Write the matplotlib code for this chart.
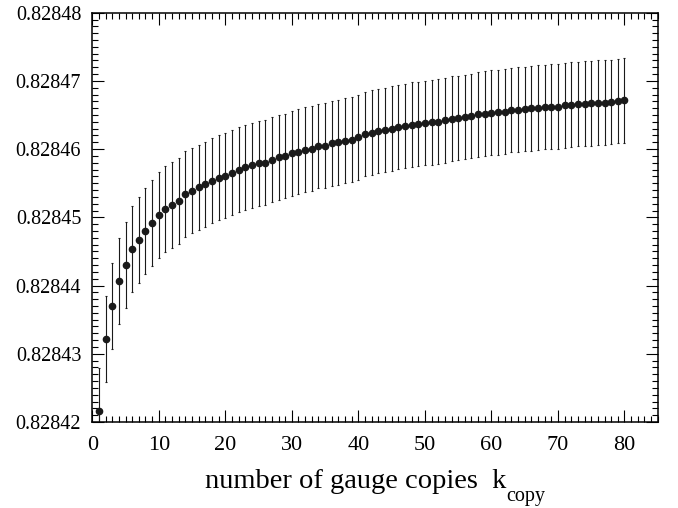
import matplotlib
matplotlib.use("Agg")
import matplotlib.pyplot as plt
from matplotlib.ticker import MultipleLocator, FormatStrFormatter
from matplotlib.transforms import offset_copy

plt.rcParams['font.family'] = ['Liberation Serif', 'DejaVu Serif']

k_copy = list(range(1, 81))

# mean value offset from 0.82842, in units of 1e-5
mean_offset = [
    0.161, 1.217, 1.706, 2.067, 2.307, 2.532, 2.669, 2.805, 2.923, 3.030,
    3.118, 3.182, 3.240, 3.343, 3.392, 3.441, 3.485, 3.539, 3.583, 3.612,
    3.656, 3.700, 3.734, 3.763, 3.793, 3.803, 3.847, 3.881, 3.900, 3.939,
    3.964, 3.993, 4.008, 4.047, 4.052, 4.086, 4.101, 4.125, 4.140, 4.174,
    4.223, 4.242, 4.267, 4.282, 4.301, 4.326, 4.340, 4.360, 4.370, 4.384,
    4.394, 4.404, 4.423, 4.448, 4.457, 4.472, 4.487, 4.511, 4.521, 4.536,
    4.541, 4.550, 4.575, 4.580, 4.589, 4.599, 4.609, 4.619, 4.624, 4.624,
    4.643, 4.653, 4.663, 4.668, 4.673, 4.682, 4.682, 4.692, 4.707, 4.717,
]
# error bar half-length, in units of 1e-5
err_offset = [
    0.63, 0.63, 0.63, 0.63, 0.63, 0.63, 0.63, 0.63, 0.63, 0.63,
    0.63, 0.63, 0.63, 0.63, 0.62, 0.62, 0.62, 0.62, 0.62, 0.62,
    0.62, 0.62, 0.62, 0.62, 0.62, 0.62, 0.62, 0.62, 0.62, 0.62,
    0.62, 0.62, 0.62, 0.62, 0.62, 0.62, 0.62, 0.62, 0.62, 0.62,
    0.62, 0.62, 0.62, 0.62, 0.62, 0.62, 0.62, 0.62, 0.62, 0.62,
    0.62, 0.62, 0.62, 0.62, 0.62, 0.62, 0.62, 0.62, 0.62, 0.62,
    0.62, 0.62, 0.62, 0.62, 0.62, 0.62, 0.62, 0.62, 0.62, 0.62,
    0.62, 0.62, 0.62, 0.62, 0.62, 0.62, 0.62, 0.62, 0.62, 0.62,
]

base = 0.82842
values = [base + m * 1e-5 for m in mean_offset]
errors = [e * 1e-5 for e in err_offset]

label_main = 'number of gauge copies  k'
label_sub = 'copy'

fig = plt.figure(figsize=(6.78, 5.08), dpi=100)
ax = fig.add_axes([0.1361, 0.1693, 0.834, 0.8057])

ax.errorbar(k_copy, values, yerr=errors, fmt='o', color='#1a1a1a',
            markersize=4.5, elinewidth=0.8, capsize=1.0, capthick=0.8,
            ecolor='#1a1a1a')

ax.set_xlim(0, 85)
ax.set_ylim(0.82842, 0.82848)
ax.xaxis.set_major_locator(MultipleLocator(10))
ax.xaxis.set_minor_locator(MultipleLocator(1))
ax.yaxis.set_major_locator(MultipleLocator(0.00001))
ax.yaxis.set_minor_locator(MultipleLocator(0.000001))
ax.yaxis.set_major_formatter(FormatStrFormatter('%.5f'))

ax.tick_params(which='both', direction='in', top=True, right=True, width=0.8)
ax.tick_params(which='major', length=8.5)
ax.tick_params(which='minor', length=4)
ax.tick_params(axis='x', labelsize=16, pad=10)
ax.tick_params(axis='y', labelsize=14.5, pad=8)
for s in ax.spines.values():
    s.set_linewidth(1.1)

# x label: main part + lowered subscript
fig.canvas.draw()
renderer = fig.canvas.get_renderer()
main_fs = 20.5
sub_fs = 14.5
baseline_y = 1 - 488.5 / 508
tmp = fig.text(0, baseline_y, label_main, fontsize=main_fs, va='baseline', ha='left')
sub_tmp = fig.text(0, baseline_y, label_sub, fontsize=sub_fs, va='baseline', ha='left')
w_main = tmp.get_window_extent(renderer).width
w_sub = sub_tmp.get_window_extent(renderer).width
tmp.remove()
sub_tmp.remove()
total = w_main + w_sub
center_px = (0.1361 + 0.834 / 2) * 678
x0 = (center_px - total / 2) / 678
fig.text(x0, baseline_y, label_main, fontsize=main_fs, va='baseline', ha='left')
fig.text(x0 + w_main / 678, baseline_y - 13 / 508, label_sub, fontsize=sub_fs,
         va='baseline', ha='left')

fig.savefig('out.png', dpi=100)
